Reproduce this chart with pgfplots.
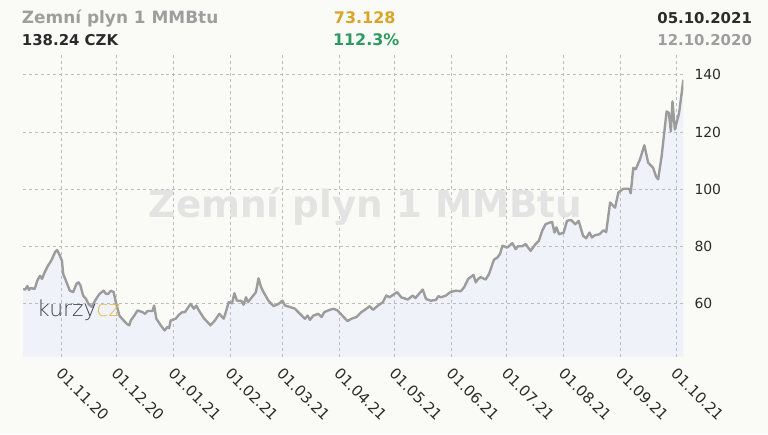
\documentclass[border=0pt]{standalone}
\usepackage{pgfplots}
\usepackage{pgfplotstable}
\pgfplotsset{compat=1.18}
\usepackage{fontspec}
\setmainfont{DejaVu Sans}
\newfontfamily\logofont{DejaVu Sans ExtraLight}
\definecolor{bg}{HTML}{FAFAF6}
\definecolor{fillc}{HTML}{EFF2F9}
\definecolor{linec}{HTML}{9C9C9C}
\definecolor{gridc}{HTML}{BDBDBD}
\definecolor{titleg}{HTML}{9E9E9E}
\definecolor{darkc}{HTML}{2B2B2B}
\definecolor{goldc}{HTML}{D9A526}
\definecolor{greenc}{HTML}{2E9A62}
\definecolor{wmc}{HTML}{E3E3E3}
\definecolor{logog}{HTML}{E5B84C}
\definecolor{logod}{HTML}{454545}

\pgfplotstableread{
d v
-0.7 65.2
0.5 65.0
1.6 66.2
2.5 64.9
3.5 65.5
5.6 65.2
7.0 68.1
8.5 69.8
9.6 68.7
11.0 71.0
12.8 73.3
14.6 75.1
16.8 78.2
17.8 78.8
18.9 77.4
20.4 75.1
21.1 70.4
22.2 68.7
23.6 66.4
24.7 64.6
26.5 64.1
28.3 67.0
29.4 67.5
30.5 66.4
31.9 62.9
33.5 61.7
34.8 60.0
36.6 58.9
38.4 61.1
40.8 63.5
43.1 64.6
44.3 63.5
45.6 63.5
47.0 64.6
48.5 64.1
49.7 60.6
51.6 55.9
53.9 54.2
55.7 53.0
57.0 52.5
57.8 54.2
59.7 55.9
61.5 57.7
64.2 57.1
65.6 56.5
66.9 57.5
69.6 57.5
70.5 59.4
71.7 54.8
74.1 52.5
76.2 50.7
77.7 51.9
78.6 51.5
79.5 54.2
82.2 54.8
84.0 56.2
85.8 57.1
87.2 57.1
88.5 58.3
90.3 60.0
92.1 58.3
93.4 59.4
94.8 57.7
97.5 55.0
101.1 52.5
103.5 54.2
105.9 56.5
108.3 54.8
109.7 57.7
111.0 60.6
112.8 60.2
114.1 63.7
115.5 61.1
117.8 61.1
119.1 59.7
120.4 62.3
121.5 60.6
123.6 62.3
125.8 64.1
127.2 68.9
128.6 65.8
129.9 64.1
132.6 61.1
135.4 59.2
138.1 60.0
140.2 61.1
141.6 59.4
144.3 58.9
147.0 58.3
149.7 56.5
152.4 54.8
153.9 55.9
155.1 54.4
157.0 55.9
159.7 56.5
161.5 55.4
162.9 57.1
165.1 57.7
167.8 58.3
170.1 57.7
172.3 56.2
175.5 54.0
177.7 54.8
180.4 55.4
183.1 57.1
185.8 58.3
187.6 59.2
189.4 57.9
192.1 59.4
194.8 60.6
196.6 62.9
198.4 62.3
200.2 63.1
202.5 64.1
204.7 62.3
208.3 61.5
211.0 62.9
212.4 62.0
216.4 65.0
218.2 61.7
220.9 61.1
223.6 61.4
224.9 62.7
226.3 62.3
229.0 62.9
231.4 64.1
234.4 64.6
237.1 64.4
238.9 65.8
241.1 68.7
244.0 70.1
245.2 67.5
246.5 68.7
247.9 69.3
250.6 68.5
252.4 70.4
255.1 75.4
257.0 76.2
258.4 77.4
259.7 80.3
260.5 80.1
262.4 79.7
265.1 81.2
266.9 79.1
268.1 80.1
270.5 80.1
272.3 80.9
275.0 78.5
277.7 80.9
279.5 82.0
281.3 85.5
283.1 87.8
285.4 88.4
286.7 88.6
288.0 84.9
289.0 86.7
290.5 84.3
293.0 84.9
294.8 89.0
297.0 89.3
299.3 87.8
301.1 89.0
303.5 83.8
305.2 82.9
307.0 84.9
308.3 83.2
310.1 84.0
312.4 84.3
314.6 85.7
316.1 85.1
318.2 95.4
320.9 93.6
322.7 98.9
325.4 100.2
328.6 100.2
329.4 98.6
330.8 107.5
332.1 107.0
334.4 110.4
336.8 115.4
338.9 109.3
341.6 107.5
343.1 104.6
344.3 103.5
346.2 111.6
348.9 127.2
350.1 126.7
351.2 120.3
352.1 130.7
353.4 120.9
355.7 126.7
358.0 138.24
}\gas

\begin{document}
\pagecolor{bg}
\begin{tikzpicture}
\path (0,0) rectangle (768pt,436pt);
% header
\node[anchor=base west, inner sep=0, font=\bfseries\fontsize{17}{17}\selectfont, text=titleg] at (18.6pt,412pt) {Zemní plyn 1 MMBtu};
\node[anchor=base west, inner sep=0, font=\bfseries\fontsize{15}{15}\selectfont, text=darkc] at (18.6pt,390pt) {138.24 CZK};
\node[anchor=base west, inner sep=0, font=\bfseries\fontsize{16}{16}\selectfont, text=goldc] at (332pt,412pt) {73.128};
\node[anchor=base west, inner sep=0, font=\bfseries\fontsize{16}{16}\selectfont, text=greenc] at (331pt,390pt) {112.3\%};
\node[anchor=base east, inner sep=0, font=\bfseries\fontsize{15}{15}\selectfont, text=darkc] at (752pt,412pt) {05.10.2021};
\node[anchor=base east, inner sep=0, font=\bfseries\fontsize{15}{15}\selectfont, text=titleg] at (752pt,390pt) {12.10.2020};
% watermark
\node[inner sep=0, font=\bfseries\fontsize{37.5}{37.5}\selectfont, text=wmc] at (364pt,229pt) {Zemní plyn 1 MMBtu};
\begin{axis}[
  at={(20pt,78pt)}, anchor=south west,
  scale only axis, width=663pt, height=305pt,
  xmin=-0.7, xmax=358, ymin=41.6, ymax=147.7,
  set layers,
  axis line style={draw=none},
  major tick length=0pt,
  grid=major,
  major grid style={draw=gridc, line width=0.7pt, dash pattern=on 3pt off 3pt},
  xtick={20,50,81,112,140,171,201,232,262,293,324,354},
  xticklabels={01.11.20,01.12.20,01.01.21,01.02.21,01.03.21,01.04.21,01.05.21,01.06.21,01.07.21,01.08.21,01.09.21,01.10.21},
  ytick={60,80,100,120,140},
  yticklabel pos=right,
  /pgf/number format/assume math mode=true,
  ticklabel style={font=\fontsize{14}{14}\selectfont, text=darkc},
  xticklabel style={font=\fontsize{15}{15}\selectfont, yshift=-10pt, xshift=2pt, rotate=-45, anchor=north west, inner sep=0pt},
  yticklabel style={anchor=west, inner sep=0pt, xshift=11pt},
]
\addplot[on layer=axis background, draw=none, fill=fillc] table[x=d, y=v] {\gas} \closedcycle;
\addplot[linec, line width=2.4pt, line join=round, mark=none] table[x=d, y=v] {\gas};
\end{axis}
% logo
\node[anchor=base west, inner sep=0, font=\logofont\fontsize{22}{22}\selectfont] at (34pt,118pt) {\textcolor{logod}{kurzy}\textcolor{logog}{cz}};
\end{tikzpicture}
\end{document}
